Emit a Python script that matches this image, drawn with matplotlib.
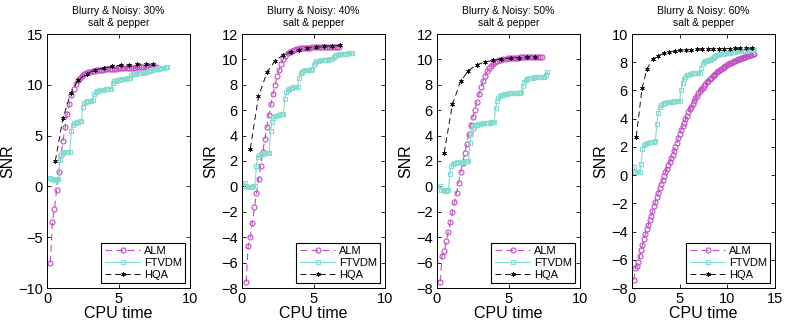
import numpy as np
import matplotlib
matplotlib.use("Agg")
import matplotlib.pyplot as plt

plt.rcParams['font.family'] = ['Liberation Sans', 'DejaVu Sans']

# ---------------- data ----------------
titles = ["Blurry & Noisy: 30%\nsalt & pepper", "Blurry & Noisy: 40%\nsalt & pepper",
          "Blurry & Noisy: 50%\nsalt & pepper", "Blurry & Noisy: 60%\nsalt & pepper"]
series_names = ["ALM", "FTVDM", "HQA"]
xlabel_text = "CPU time"
ylabel_text = "SNR"

# Panel 1 (30%)
alm1_t = [0.23, 0.38, 0.52, 0.67, 0.82, 0.97, 1.12, 1.27, 1.41, 1.56, 1.71, 1.86, 2.01, 2.15, 2.30, 2.45, 2.60,
          2.75, 2.90, 3.04, 3.19, 3.34, 3.49, 3.64, 3.78, 3.93, 4.08, 4.23, 4.38, 4.52, 4.67, 4.82, 4.97, 5.12,
          5.26, 5.41, 5.56, 5.71, 5.86, 6.00, 6.15, 6.30, 6.45, 6.60, 6.74, 6.89, 7.04, 7.19, 7.34, 7.48, 7.63]
alm1_y = [-7.5, -3.5, -2.2, -0.4, 1.4, 3.1, 4.5, 5.8, 7.1, 8.1, 9.0, 9.6, 10.1, 10.45, 10.7, 10.9, 11.05,
          11.15, 11.25, 11.3, 11.35, 11.4, 11.43, 11.46, 11.48, 11.5, 11.52, 11.54, 11.55, 11.57, 11.58, 11.6,
          11.61, 11.62, 11.63, 11.65, 11.66, 11.67, 11.68, 11.69, 11.7, 11.71, 11.72, 11.73, 11.74, 11.75,
          11.76, 11.77, 11.78, 11.79, 11.8]
ftv1_t = [0.2, 0.3, 0.4, 0.5, 0.6, 0.7, 0.8, 0.9, 1.0, 1.1, 1.2, 1.3, 1.4, 1.5, 1.6, 1.7, 1.8, 1.9, 2.0, 2.1,
          2.2, 2.3, 2.4, 2.5, 2.6, 2.7, 2.8, 2.9, 3.0, 3.1, 3.2, 3.3, 3.4, 3.5, 3.6, 3.7, 3.8, 3.9, 4.0, 4.1,
          4.2, 4.3, 4.4, 4.5, 4.6, 4.7, 4.8, 4.9, 5.0, 5.1, 5.2, 5.3, 5.4, 5.5, 5.6, 5.7, 5.8, 5.9, 6.0, 6.1,
          6.2, 6.3, 6.4, 6.5, 6.6, 6.7, 6.8, 6.9, 7.0, 7.1, 7.2, 7.3, 7.4, 7.5, 7.6, 7.7, 7.8, 7.9, 8.0, 8.1,
          8.2, 8.3, 8.4]
ftv1_y = [0.85, 0.7, 0.68, 0.67, 0.67, 0.68, 0.7, 2.6, 3.1, 3.3, 3.35, 3.38, 3.4, 3.42, 3.43, 5.5, 6.0, 6.2,
          6.28, 6.33, 6.36, 6.39, 6.42, 7.8, 8.2, 8.33, 8.38, 8.41, 8.43, 8.45, 8.47, 9.1, 9.3, 9.38, 9.42,
          9.45, 9.48, 9.5, 9.52, 9.54, 9.56, 9.57, 9.58, 9.6, 10.15, 10.35, 10.42, 10.46, 10.5, 10.52, 10.55,
          10.57, 10.59, 10.61, 10.63, 10.65, 10.67, 10.95, 11.03, 11.07, 11.1, 11.12, 11.14, 11.16, 11.18,
          11.2, 11.21, 11.22, 11.24, 11.32, 11.4, 11.45, 11.49, 11.52, 11.55, 11.58, 11.6, 11.63, 11.65,
          11.67, 11.69, 11.71, 11.72]
hqa1_t = [0.58, 1.12, 1.65, 2.2, 2.8, 3.39, 3.98, 4.57, 5.14, 5.72, 6.32, 6.91, 7.44]
hqa1_y = [2.5, 6.72, 9.15, 10.5, 11.1, 11.48, 11.65, 11.82, 11.92, 11.95, 12.02, 12.03, 12.03]

# Panel 2 (40%)
alm2_t = [0.29, 0.43, 0.58, 0.72, 0.87, 1.01, 1.16, 1.30, 1.45, 1.59, 1.74, 1.88, 2.03, 2.17, 2.32, 2.46, 2.61,
          2.75, 2.90, 3.04, 3.19, 3.33, 3.48, 3.62, 3.77, 3.91, 4.06, 4.20, 4.35, 4.49, 4.64, 4.78, 4.93, 5.07,
          5.22, 5.36, 5.51, 5.65, 5.80, 5.94, 6.09, 6.23, 6.38, 6.52, 6.67, 6.81]
alm2_y = [-7.55, -4.7, -4.0, -2.85, -1.66, -0.55, 0.56, 1.64, 2.7, 3.7, 4.68, 5.6, 6.5, 7.3, 8.0, 8.7, 9.2,
          9.65, 10.05, 10.3, 10.5, 10.6, 10.7, 10.75, 10.8, 10.83, 10.86, 10.88, 10.9, 10.91, 10.92, 10.93,
          10.94, 10.95, 10.95, 10.96, 10.96, 10.97, 10.97, 10.97, 10.98, 10.98, 10.98, 10.98, 10.97, 10.97]
ftv2_t = [0.2, 0.3, 0.4, 0.5, 0.6, 0.7, 0.8, 0.9, 1.0, 1.1, 1.2, 1.3, 1.4, 1.5, 1.6, 1.7, 1.8, 1.9, 2.0, 2.1,
          2.2, 2.3, 2.4, 2.5, 2.6, 2.7, 2.8, 2.9, 3.0, 3.1, 3.2, 3.3, 3.4, 3.5, 3.6, 3.7, 3.8, 3.9, 4.0, 4.1,
          4.2, 4.3, 4.4, 4.5, 4.6, 4.7, 4.8, 4.9, 5.0, 5.1, 5.2, 5.3, 5.4, 5.5, 5.6, 5.7, 5.8, 5.9, 6.0, 6.1,
          6.2, 6.3, 6.4, 6.5, 6.6, 6.7, 6.8, 6.9, 7.0, 7.1, 7.2, 7.3, 7.4, 7.5, 7.6, 7.7]
ftv2_y = [0.3, 0.0, -0.05, -0.05, -0.03, -0.02, 0.0, 0.02, 1.6, 2.3, 2.48, 2.53, 2.56, 2.58, 2.6, 2.61, 2.62,
          2.63, 4.4, 5.1, 5.4, 5.52, 5.58, 5.62, 5.65, 5.67, 5.68, 5.7, 6.9, 7.4, 7.6, 7.7, 7.75, 7.78, 7.8,
          7.82, 7.83, 7.85, 8.55, 8.9, 9.03, 9.1, 9.13, 9.15, 9.17, 9.18, 9.2, 9.22, 9.55, 9.75, 9.84, 9.88,
          9.91, 9.93, 9.95, 9.96, 9.97, 9.98, 9.99, 10.0, 10.02, 10.04, 10.2, 10.3, 10.35, 10.38, 10.4, 10.42,
          10.43, 10.44, 10.45, 10.46, 10.47, 10.48, 10.49, 10.5]
hqa2_t = [0.58, 1.15, 1.76, 2.32, 2.87, 3.45, 4.02, 4.58, 5.15, 5.73, 6.3, 6.82]
hqa2_y = [2.96, 7.08, 9.0, 9.9, 10.35, 10.6, 10.77, 10.88, 10.96, 11.02, 11.07, 11.1]

# Panel 3 (50%)
alm3_t = [0.22, 0.36, 0.51, 0.65, 0.79, 0.94, 1.08, 1.22, 1.37, 1.51, 1.65, 1.79, 1.94, 2.08, 2.22, 2.37, 2.51,
          2.65, 2.79, 2.94, 3.08, 3.22, 3.37, 3.51, 3.65, 3.80, 3.94, 4.08, 4.22, 4.37, 4.51, 4.65, 4.80, 4.94,
          5.08, 5.23, 5.37, 5.51, 5.66, 5.80, 5.94, 6.09, 6.23, 6.37, 6.51, 6.66, 6.80, 6.94, 7.09, 7.23, 7.37]
alm3_y = [-7.5, -5.45, -5.1, -4.3, -3.6, -2.8, -2.0, -1.25, -0.5, 0.3, 1.1, 1.85, 2.6, 3.35, 4.1, 4.8, 5.45,
          6.05, 6.65, 7.25, 7.8, 8.3, 8.7, 9.05, 9.3, 9.5, 9.65, 9.78, 9.87, 9.94, 9.99, 10.03, 10.06, 10.09,
          10.11, 10.12, 10.13, 10.14, 10.14, 10.15, 10.15, 10.15, 10.15, 10.15, 10.15, 10.15, 10.15, 10.15,
          10.15, 10.15, 10.15]
ftv3_t = ftv2_t
ftv3_y = [0.0, -0.3, -0.32, -0.33, -0.33, -0.32, -0.3, 1.0, 1.6, 1.8, 1.85, 1.88, 1.9, 1.92, 1.93, 1.94, 1.95,
          1.96, 1.97, 1.98, 2.0, 3.4, 4.1, 4.5, 4.7, 4.8, 4.87, 4.9, 4.93, 4.95, 4.97, 4.98, 5.0, 5.0, 5.02,
          5.03, 5.04, 5.05, 5.06, 6.15, 6.7, 6.95, 7.1, 7.18, 7.22, 7.25, 7.28, 7.3, 7.32, 7.33, 7.34, 7.35,
          7.36, 7.37, 7.38, 7.38, 7.39, 7.4, 7.9, 8.2, 8.35, 8.45, 8.5, 8.53, 8.55, 8.57, 8.58, 8.59, 8.6, 8.6,
          8.61, 8.62, 8.62, 8.63, 8.8, 9.0]
hqa3_t = [0.5, 1.08, 1.65, 2.19, 2.78, 3.36, 3.94, 4.5, 5.14, 5.73, 6.3, 6.87]
hqa3_y = [2.65, 6.45, 8.28, 9.1, 9.58, 9.8, 9.93, 10.03, 10.09, 10.14, 10.18, 10.22]

# Panel 4 (60%)
t4 = [0.2, 0.35, 0.5, 0.65, 0.8, 0.95, 1.1, 1.25, 1.4, 1.55, 1.7, 1.85, 2.0, 2.15, 2.3, 2.45, 2.6, 2.75, 2.9,
      3.05, 3.2, 3.35, 3.5, 3.65, 3.8, 3.95, 4.1, 4.25, 4.4, 4.55, 4.7, 4.85, 5.0, 5.15, 5.3, 5.45, 5.6, 5.75,
      5.9, 6.05, 6.2, 6.35, 6.5, 6.65, 6.8, 6.95, 7.1, 7.25, 7.4, 7.55, 7.7, 7.85, 8.0, 8.15, 8.3, 8.45, 8.6,
      8.75, 8.9, 9.05, 9.2, 9.35, 9.5, 9.65, 9.8, 9.95, 10.1, 10.25, 10.4, 10.55, 10.7, 10.85, 11.0, 11.15,
      11.3, 11.45, 11.6, 11.75, 11.9, 12.05, 12.2, 12.35, 12.5, 12.65, 12.8]
alm4_t = t4
alm4_y = [-7.45, -6.55, -6.45, -6.15, -5.75, -5.3, -4.95, -4.55, -4.2, -3.85, -3.55, -3.2, -2.9, -2.55, -2.2,
          -1.9, -1.55, -1.25, -0.9, -0.6, -0.35, -0.05, 0.2, 0.45, 0.7, 0.95, 1.2, 1.45, 1.7, 2.0, 2.3, 2.6,
          2.9, 3.2, 3.45, 3.7, 3.95, 4.2, 4.45, 4.65, 4.85, 5.05, 5.25, 5.45, 5.6, 5.8, 5.95, 6.1, 6.2, 6.35,
          6.45, 6.6, 6.7, 6.8, 6.9, 7.0, 7.1, 7.2, 7.3, 7.38, 7.45, 7.52, 7.6, 7.67, 7.74, 7.8, 7.86, 7.92,
          7.97, 8.02, 8.07, 8.12, 8.17, 8.21, 8.25, 8.29, 8.32, 8.35, 8.38, 8.42, 8.46, 8.5, 8.54, 8.57, 8.6]
ftv4_t = t4
ftv4_y = [0.55, 0.25, 0.22, 0.22, 0.23, 0.8, 1.85, 2.1, 2.2, 2.26, 2.3, 2.33, 2.35, 2.37, 2.38, 2.4, 3.6, 4.4,
          4.8, 4.98, 5.06, 5.11, 5.14, 5.16, 5.18, 5.19, 5.2, 5.21, 5.22, 5.23, 5.24, 5.25, 5.26, 6.0, 6.5, 6.8,
          6.97, 7.06, 7.12, 7.16, 7.19, 7.21, 7.23, 7.24, 7.25, 7.26, 7.27, 7.6, 7.88, 8.0, 8.07, 8.12, 8.15,
          8.18, 8.21, 8.28, 8.36, 8.43, 8.48, 8.52, 8.55, 8.57, 8.59, 8.61, 8.62, 8.64, 8.65, 8.67, 8.69, 8.71,
          8.73, 8.75, 8.76, 8.77, 8.78, 8.79, 8.8, 8.81, 8.82, 8.83, 8.84, 8.85, 8.86, 8.87, 8.88]
hqa4_t = [0.45, 1.05, 1.58, 2.2, 2.76, 3.34, 3.9, 4.48, 5.05, 5.63, 6.2, 6.78, 7.35, 7.93, 8.5, 9.08, 9.65,
          10.23, 10.8, 11.38, 11.95, 12.55]
hqa4_y = [2.73, 6.15, 7.55, 8.22, 8.47, 8.63, 8.73, 8.79, 8.84, 8.87, 8.9, 8.92, 8.93, 8.94, 8.95, 8.96, 8.97,
          8.97, 8.98, 8.98, 8.99, 9.0]

xlims = [(0, 10), (0, 10), (0, 10), (0, 15)]
ylims = [(-10, 15), (-8, 12), (-8, 12), (-8, 10)]
xtick_sets = [[0, 5, 10], [0, 5, 10], [0, 5, 10], [0, 5, 10, 15]]
ytick_sets = [[-10, -5, 0, 5, 10, 15], list(range(-8, 13, 2)), list(range(-8, 13, 2)), list(range(-8, 11, 2))]

panels = [
    (alm1_t, alm1_y, ftv1_t, ftv1_y, hqa1_t, hqa1_y),
    (alm2_t, alm2_y, ftv2_t, ftv2_y, hqa2_t, hqa2_y),
    (alm3_t, alm3_y, ftv3_t, ftv3_y, hqa3_t, hqa3_y),
    (alm4_t, alm4_y, ftv4_t, ftv4_y, hqa4_t, hqa4_y),
]

# ---------------- style ----------------
c_alm = '#c24cc4'
c_ftv = '#84dbd0'
c_hqa = '#111111'

W, H = 786, 330
fig = plt.figure(figsize=(W / 100, H / 100), dpi=100)
lefts_px = [47, 242, 437, 632]
ax_w_px, top_px, bot_px = 143, 34, 288

for i, (at, ay, ft, fy, ht, hy) in enumerate(panels):
    ax = fig.add_axes([lefts_px[i] / W, (H - bot_px) / H, ax_w_px / W, (bot_px - top_px) / H])
    ax.plot(at, ay, linestyle=(0, (6, 4)), color=c_alm, lw=0.8, marker='o', ms=3.6, mfc='none',
            mec=c_alm, mew=0.8, label=series_names[0])
    ax.plot(ft, fy, linestyle='-', color=c_ftv, lw=0.8, marker='s', ms=3.3, mfc='none',
            mec=c_ftv, mew=0.8, label=series_names[1])
    ax.plot(ht, hy, linestyle=(0, (6, 4)), color=c_hqa, lw=0.7, marker=(6, 2, 0), ms=3.2,
            mec=c_hqa, mew=0.55, label=series_names[2])
    ax.set_xlim(*xlims[i])
    ax.set_ylim(*ylims[i])
    ax.set_xticks(xtick_sets[i])
    ax.set_yticks(ytick_sets[i])
    ax.tick_params(direction='in', top=True, right=True, length=3, width=0.6, labelsize=10.5, pad=3)
    for s in ax.spines.values():
        s.set_linewidth(0.7)
    ax.set_xlabel(xlabel_text, fontsize=11.5, labelpad=0)
    ax.set_ylabel(ylabel_text, fontsize=11.5, labelpad=2)
    ax.set_title(titles[i], fontsize=7.5, pad=6, linespacing=1.25)
    leg = ax.legend(loc='lower right', fontsize=8, frameon=True, fancybox=False, framealpha=1,
                    edgecolor='black', borderaxespad=0.45, handlelength=3.2, handletextpad=0.3,
                    labelspacing=0.15, borderpad=0.3)
    leg.get_frame().set_linewidth(0.8)

fig.savefig('out.png', dpi=100)
